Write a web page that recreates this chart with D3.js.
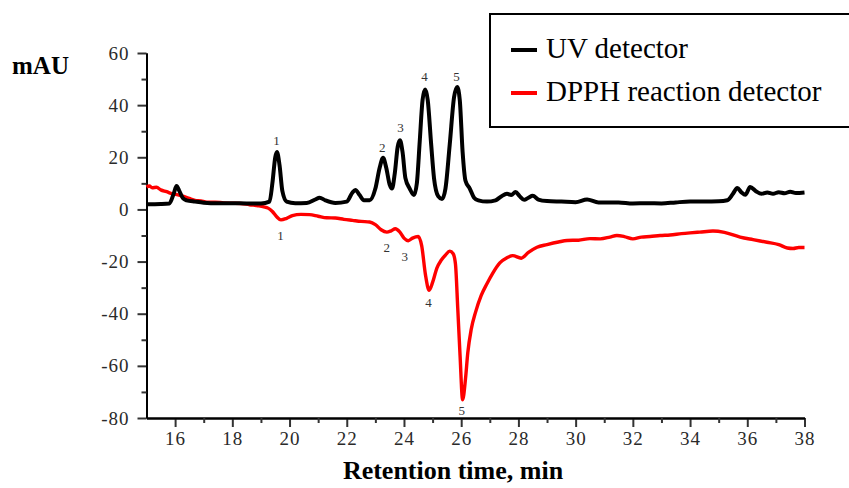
<!DOCTYPE html>
<meta charset="utf-8">
<script src="https://d3js.org/d3.v7.min.js"></script>
<style>
  body { margin: 0; background: #fff; }
  svg { display: block; }
</style>
<svg width="849" height="488"></svg>
<script>
    // retention time (min) and signal (mAU)
    var uvTime = [15.0, 15.5, 15.8, 15.95, 16.05, 16.15, 16.28, 16.4, 16.7, 17.0, 17.5, 18.0, 18.5, 19.0, 19.3,
        19.4, 19.5, 19.56, 19.65, 19.75, 19.9, 20.2, 20.6, 20.9, 21.05, 21.25, 21.6, 22.0, 22.2, 22.3,
        22.45, 22.6, 22.8, 23.0, 23.15, 23.27, 23.38, 23.5, 23.58, 23.68, 23.78, 23.86, 23.95, 24.05, 24.2,
        24.35, 24.45, 24.55, 24.65, 24.74, 24.83, 24.95, 25.05, 25.2, 25.33, 25.45, 25.6, 25.75, 25.86, 25.95,
        26.05, 26.15, 26.3, 26.45, 26.6, 26.9, 27.2, 27.4, 27.6, 27.75, 27.9, 28.05, 28.2, 28.35, 28.5,
        28.7, 29.0, 29.5, 30.0, 30.4, 30.8, 31.5, 32.0, 32.5, 33.0, 33.5, 34.0, 34.5, 35.0, 35.3,
        35.5, 35.65, 35.8, 35.93, 36.1, 36.3, 36.5, 36.7, 36.9, 37.1, 37.3, 37.5, 37.7, 38.0];
    var uvSignal = [2.0, 2.1, 2.3, 6, 9, 7, 4.2, 3.5, 3, 2.6, 2.4, 2.4, 2.3, 2.3, 3,
        10, 20, 22, 17, 7, 3, 2.4, 2.5, 3.8, 4.5, 3.5, 2.5, 3, 6.5, 7.5,
        5.5, 3.5, 3.5, 8, 16, 19.8, 16, 9.5, 8, 14, 24, 26.5, 22, 12, 8,
        5.5, 10, 26, 42, 46, 42, 25, 12, 5, 4, 8, 25, 43, 47, 42,
        22, 11, 8, 4.5, 3.5, 3, 3.5, 5, 6, 5.5, 6.7, 5, 3.7, 4.5, 5.2,
        3.8, 3.2, 3, 2.8, 3.8, 2.7, 2.7, 2.3, 2.4, 2.3, 2.7, 3, 3, 3.1, 3.5,
        6, 8.2, 6.5, 5.6, 8.6, 7, 6, 6.5, 6, 6.6, 6.2, 6.8, 6.3, 6.5];

    var dpphTime = [15.0, 15.1, 15.2, 15.35, 15.5, 15.7, 15.9, 16.1, 16.3, 16.5, 16.7, 16.9, 17.1, 17.4, 17.7,
        18.0, 18.3, 18.6, 18.9, 19.1, 19.25, 19.4, 19.55, 19.7, 19.9, 20.1, 20.4, 20.7, 21.0, 21.3,
        21.6, 21.9, 22.2, 22.5, 22.8, 23.0, 23.2, 23.4, 23.55, 23.7, 23.85, 24.0, 24.15, 24.3, 24.5,
        24.62, 24.75, 24.88, 25.0, 25.15, 25.3, 25.45, 25.6, 25.72, 25.8, 25.88, 25.96, 26.05, 26.15, 26.23,
        26.35, 26.5, 26.7, 26.9, 27.1, 27.35, 27.6, 27.8, 28.1, 28.35, 28.65, 29.0, 29.4, 29.7, 30.1,
        30.5, 30.86, 31.2, 31.44, 31.7, 32.0, 32.3, 32.6, 32.95, 33.3, 33.7, 34.0, 34.34, 34.8, 35.2,
        35.75, 36.2, 36.69, 37.1, 37.4, 37.6, 37.8, 38.0];
    var dpphSignal = [8.6, 9, 8.3, 8.5, 7.5, 6.8, 6.0, 5.6, 5, 4.2, 3.5, 3.3, 2.8, 2.8, 2.5,
        2.4, 2.3, 1.8, 1.4, 1.0, 0.5, -0.8, -2.8, -4, -3.4, -2.4, -1.9, -2, -2.6, -3.2,
        -3.3, -3.8, -4.2, -4.6, -4.8, -5.8, -7.8, -8.7, -8.2, -7.4, -8.6, -11, -12, -11, -10.4,
        -14, -25, -31, -28, -22.5, -19.5, -17.5, -16, -17, -21, -38, -56, -73, -65, -55,
        -46, -39.5, -33, -28.5, -24.5, -20.5, -18.5, -17.7, -18.7, -16.5, -14.5, -13.5, -12.5, -11.9, -11.8,
        -11.2, -11.3, -10.6, -10, -10.4, -11.3, -10.6, -10.4, -10, -9.8, -9.3, -9, -8.7, -8.3, -8.8,
        -10.6, -11.6, -12.6, -13.5, -14.8, -15, -14.6, -14.6];

    // peak numbers (placed in data units)
    var peakNames = ["1", "2", "3", "4", "5"];
    var uvLabelTime = [19.54, 23.24, 23.88, 24.72, 25.84];
    var uvLabelValue = [26.5, 23.8, 31.5, 50.8, 50.8];
    var dpphLabelTime = [19.68, 23.4, 24.03, 24.86, 26.02];
    var dpphLabelValue = [-10, -14.6, -18, -35.8, -77.3];

    var xMajorTicks = d3.range(16, 39, 2),
        xMinorTicks = d3.range(17, 38, 2),
        yMajorTicks = d3.range(-80, 61, 20),
        yMinorTicks = d3.range(-70, 60, 20);

    var seriesNames = ["UV detector", "DPPH reaction detector"],
        seriesColors = ["#000000", "#ff0000"];

    var svg = d3.select("svg");

    var xScale = d3.scaleLinear().domain([15, 38]).range([146.5, 804.5]),
        yScale = d3.scaleLinear().domain([-80, 60]).range([418, 53]);

    var serif = "'Liberation Serif', 'Times New Roman', serif";

    // axes
    svg.append("g")
        .attr("class", "x axis")
        .attr("transform", "translate(0," + yScale(-80) + ")")
        .call(d3.axisBottom(xScale).tickValues(xMajorTicks).tickSize(9).tickPadding(5).tickSizeOuter(0).tickFormat(d3.format("d")));
    svg.append("g")
        .attr("class", "x minor")
        .attr("transform", "translate(0," + yScale(-80) + ")")
        .call(d3.axisBottom(xScale).tickValues(xMinorTicks).tickSize(5).tickSizeOuter(0).tickFormat(""));

    svg.append("g")
        .attr("class", "y axis")
        .attr("transform", "translate(" + xScale(15) + ",0)")
        .call(d3.axisLeft(yScale).tickValues(yMajorTicks).tickSize(9).tickPadding(8).tickSizeOuter(0)
            .tickFormat(function(d) { return String(d); }));
    svg.append("g")
        .attr("class", "y minor")
        .attr("transform", "translate(" + xScale(15) + ",0)")
        .call(d3.axisLeft(yScale).tickValues(yMinorTicks).tickSize(5).tickSizeOuter(0).tickFormat(""));

    svg.selectAll(".axis path, .minor path").attr("stroke", "#000").attr("stroke-width", 2);
    svg.selectAll(".axis line, .minor line").attr("stroke", "#333").attr("stroke-width", 2);
    svg.selectAll(".axis text")
        .style("font-family", serif)
        .style("font-size", "19px")
        .style("letter-spacing", "1px")
        .attr("fill", "#2a2a2a");

    // curves
    var line = d3.line()
        .x(function(d) { return xScale(d[0]); })
        .y(function(d) { return yScale(d[1]); })
        .curve(d3.curveMonotoneX);

    var uvData = d3.zip(uvTime, uvSignal),
        dpphData = d3.zip(dpphTime, dpphSignal);

    svg.append("path")
        .datum(dpphData)
        .attr("fill", "none")
        .attr("stroke", seriesColors[1])
        .attr("stroke-width", 3.4)
        .attr("stroke-linejoin", "round")
        .attr("d", line);

    svg.append("path")
        .datum(uvData)
        .attr("fill", "none")
        .attr("stroke", seriesColors[0])
        .attr("stroke-width", 4)
        .attr("stroke-linejoin", "round")
        .attr("d", line);

    // peak numbers
    function drawLabels(times, values) {
        svg.append("g").selectAll("text")
            .data(peakNames)
            .enter().append("text")
            .attr("x", function(d, i) { return xScale(times[i]); })
            .attr("y", function(d, i) { return yScale(values[i]); })
            .attr("text-anchor", "middle")
            .attr("dominant-baseline", "central")
            .style("font-family", serif)
            .style("font-size", "13px")
            .attr("fill", "#333")
            .text(function(d) { return d; });
    }
    drawLabels(uvLabelTime, uvLabelValue);
    drawLabels(dpphLabelTime, dpphLabelValue);

    // axis titles
    svg.append("text")
        .attr("x", 12)
        .attr("y", 74)
        .style("font-family", serif)
        .style("font-weight", "bold")
        .style("font-size", "25px")
        .text("mAU");

    svg.append("text")
        .attr("x", 453)
        .attr("y", 479)
        .attr("text-anchor", "middle")
        .style("font-family", serif)
        .style("font-weight", "bold")
        .style("font-size", "26px")
        .text("Retention time, min");

    // legend (its right edge runs off the page, as in the source figure)
    var legend = svg.append("g").attr("class", "legend");
    legend.append("rect")
        .attr("x", 490)
        .attr("y", 14)
        .attr("width", 370)
        .attr("height", 113)
        .attr("fill", "#fff")
        .attr("stroke", "#000")
        .attr("stroke-width", 2);

    var item = legend.selectAll(".item")
        .data(seriesNames)
        .enter().append("g")
        .attr("class", "item")
        .attr("transform", function(d, i) { return "translate(0," + (50 + i * 43) + ")"; });
    item.append("line")
        .attr("x1", 511).attr("x2", 537)
        .attr("stroke", function(d, i) { return seriesColors[i]; })
        .attr("stroke-width", 4);
    item.append("text")
        .attr("x", 546)
        .attr("y", 8)
        .style("font-family", serif)
        .style("font-size", "29px")
        .text(function(d) { return d; });
</script>
